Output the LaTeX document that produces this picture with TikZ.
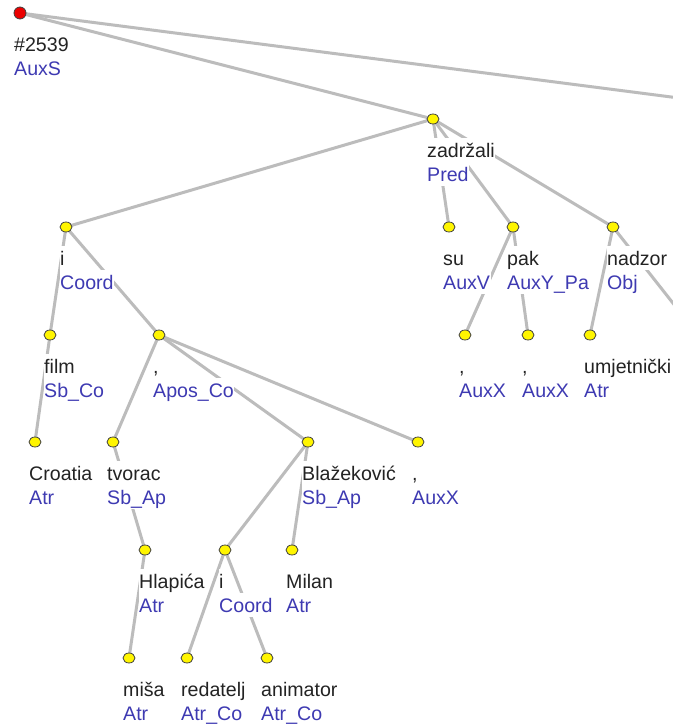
\documentclass[tikz,border=0pt]{standalone}
\usepackage{fontspec}
\setmainfont{Liberation Sans}
\usetikzlibrary{shapes.geometric}
\definecolor{edgegray}{RGB}{188,188,188}
\definecolor{funblue}{RGB}{62,58,178}
\definecolor{wordblack}{RGB}{35,35,35}
\definecolor{dotyellow}{RGB}{255,245,0}
\definecolor{dotred}{RGB}{235,0,0}
\pgfdeclarelayer{background}
\pgfsetlayers{background,main}
\tikzset{
  edge/.style={draw=edgegray, line width=3pt},
  dot/.style={ellipse, minimum width=12pt, minimum height=10pt, inner sep=0pt,
    fill=dotyellow, draw=black!75, line width=0.8pt},
  rootdot/.style={circle, minimum size=12pt, inner sep=0pt,
    fill=dotred, draw=black!75, line width=0.8pt},
  lbl/.style={anchor=base west, fill=white, inner xsep=0.5pt, inner ysep=0.25pt,
    text height=19pt, text depth=4.5pt, font=\fontsize{19.6}{24}\selectfont},
  wlbl/.style={lbl, text=wordblack},
  flbl/.style={lbl, text=funblue}
}
\newcommand\tnd[6]{%
  \node[#6] (#1) at (#2,#3) {};
  \node[wlbl] (#1w) at (#2-6.5,#3+38.5) {#4};
  \node[flbl] (#1f) at (#2-6.5,#3+62.5) {#5};}
\begin{document}
\begin{tikzpicture}[x=1pt,y=-1pt]
\useasboundingbox (0,0) rectangle (672,727);
\clip (0,0) rectangle (672,727);
% nodes
\tnd{root}{20}{13}{\#2539}{AuxS}{rootdot}
\tnd{zad}{433}{119}{zadržali}{Pred}{dot}
\tnd{coord}{66}{227}{i}{Coord}{dot}
\tnd{su}{449}{227}{su}{AuxV}{dot}
\tnd{pak}{513}{227}{pak}{AuxY\_Pa}{dot}
\tnd{nadzor}{613}{227}{nadzor}{Obj}{dot}
\tnd{film}{50}{335}{film}{Sb\_Co}{dot}
\tnd{apos}{159}{335}{,}{Apos\_Co}{dot}
\tnd{auxa}{465}{335}{,}{AuxX}{dot}
\tnd{auxb}{528}{335}{,}{AuxX}{dot}
\tnd{umj}{590}{335}{umjetnički}{Atr}{dot}
\tnd{croatia}{35}{442}{Croatia}{Atr}{dot}
\tnd{tvorac}{113}{442}{tvorac}{Sb\_Ap}{dot}
\tnd{blaz}{308}{442}{Blažeković}{Sb\_Ap}{dot}
\tnd{auxc}{418}{442}{,}{AuxX}{dot}
\tnd{hlap}{145}{550}{Hlapića}{Atr}{dot}
\tnd{coordb}{225}{550}{i}{Coord}{dot}
\tnd{milan}{292}{550}{Milan}{Atr}{dot}
\tnd{misa}{129}{658}{miša}{Atr}{dot}
\tnd{redatelj}{187}{658}{redatelj}{Atr\_Co}{dot}
\tnd{animator}{267}{658}{animator}{Atr\_Co}{dot}
\coordinate (offA) at (772,110);
\coordinate (offB) at (713,354);
% edges
\begin{pgfonlayer}{background}
\fill[white] (0,0) rectangle (672,727);
\foreach \a/\b in {root/zad, zad/coord, zad/su, zad/pak, zad/nadzor,
  coord/film, coord/apos, film/croatia, apos/tvorac, apos/blaz, apos/auxc,
  tvorac/hlap, hlap/misa, blaz/coordb, blaz/milan, coordb/redatelj,
  coordb/animator, pak/auxa, pak/auxb, nadzor/umj}
  \draw[edge] (\a.center) -- (\b.center);
\draw[edge] (root.center) -- (offA);
\draw[edge] (nadzor.center) -- (offB);
\end{pgfonlayer}
\end{tikzpicture}
\end{document}
